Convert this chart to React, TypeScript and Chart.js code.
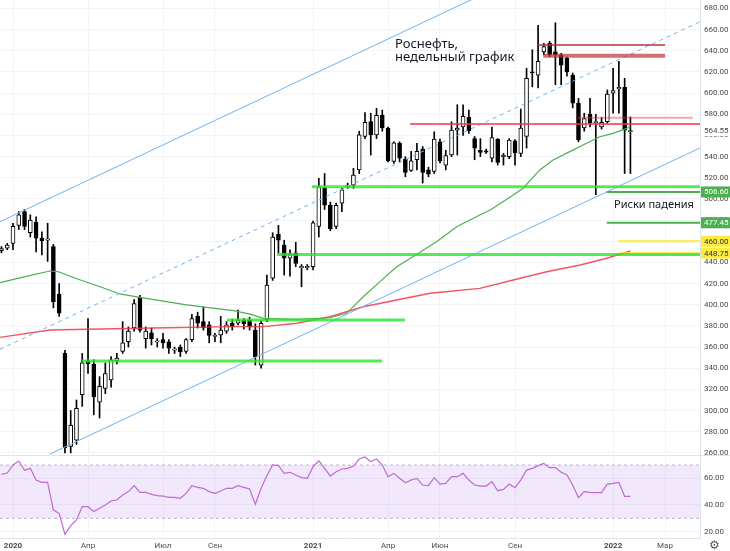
import React, { useEffect, useRef } from "react";
import { Chart, registerables } from "chart.js";

Chart.register(...registerables);

// ---- data (weekly candles; week 0 = week of 6 Jan 2020) ----
const FIRST_WEEK = -2;
const opens = [
  451, 453.5, 458, 475, 488, 468, 478, 463, 461, 455, 410, 354, 266, 272, 315, 347, 344, 308, 321, 329,
  347, 356, 365, 378, 407, 368, 373.5, 364.8, 367, 365, 357, 360, 356, 367, 389, 384, 381, 370, 371.5, 375,
  382.5, 382.5, 385.5, 385.5, 376, 343, 386, 425, 466.5, 456.5, 444, 449, 435, 435, 436, 474, 510, 494,
  474, 496, 512, 513, 527.5, 559, 573, 560.5, 579, 567, 535.5, 552.5, 537.5, 527, 537, 547, 527.5, 526,
  554, 532, 541.5, 565, 568, 577, 557, 546, 545.5, 538.5, 556.5, 540, 540, 555, 543, 559, 620, 617, 639,
  647, 639, 636, 633, 617, 590.5, 567, 580, 572, 568, 573, 600, 604, 605.5, 563.3,
];
const highs = [
  455, 458, 477, 488, 490, 485, 483, 469, 477, 457, 420, 357, 300, 310, 354, 387, 348, 332, 345, 351,
  354, 384, 379, 405, 409, 379, 378, 368, 373, 367, 360, 362, 368, 391, 393, 398, 384, 373, 389, 384,
  386, 395, 387, 388, 382, 385, 428, 468, 475, 461, 452, 459, 438, 438, 479, 519.5, 524, 497,
  496, 510, 515, 529, 564, 581.5, 581, 585.7, 584, 568, 554, 554, 540, 545, 552.5, 549.5, 530, 563.5,
  556.5, 546, 573, 589, 589, 584, 559, 557, 547, 568, 557, 543, 557, 556, 585, 623.5, 641, 664, 647,
  649, 666.5, 637.5, 634, 619, 595, 581, 595, 580, 577, 603, 623.5, 630, 614, 577.5,
];
const lows = [
  449, 452, 452, 471, 471, 464, 450, 447, 441, 397, 389, 260, 260, 268, 304, 335, 296, 293, 316, 322,
  344, 354, 360, 375, 374, 359, 362, 360, 359, 354, 354, 351, 354, 365, 378, 376, 364, 365, 364, 373,
  376, 381, 377, 376, 343, 340, 384, 423, 449, 428, 427, 436, 417, 433, 433, 464, 490, 470,
  472, 488, 510, 510, 524, 557, 541.5, 557, 564, 535, 533.5, 535, 521, 526, 527.5, 515, 521, 524,
  534, 527.5, 540, 541.5, 560, 562, 537, 540, 543, 535, 532, 532, 538, 532, 540, 548, 606, 605, 636,
  634.5, 608, 608, 616, 586, 554, 564, 568, 504, 566, 571.5, 581, 581, 524, 524,
];
const closes = [
  453, 456.5, 474, 485, 474, 480, 463, 460.5, 462.2, 403, 392, 265, 286, 302, 345, 344, 313, 323, 335, 348,
  349.5, 364, 375, 401, 376, 375, 368, 366, 364, 359, 358.2, 355.5, 367, 387, 382.5, 378, 371, 371.2, 376, 381,
  379, 385.5, 382, 379, 351, 382.5, 418.5, 464, 461, 444, 448, 439, 436.2, 436.2, 477.5, 511.5, 494, 472,
  494, 508.5, 513.2, 522.5, 560.5, 572.5, 560.5, 579, 567, 536, 553, 538.5, 525, 536, 545, 525, 523.5, 556.5,
  536, 541, 565, 567, 578, 564.5, 548, 544, 544.3, 558, 534.5, 541.2, 555.5, 543.5, 567, 614, 619, 630, 644,
  636, 636, 626.5, 620, 590.5, 556, 576, 571.5, 573.2, 572.5, 599, 602.5, 605.5, 565, 564.55,
];
const rsiValues = [
  63, 64, 70, 73, 66, 67.5, 58.7, 57, 57, 36.2, 33.7, 18, 24.5, 28.7, 38.7, 38.7, 35, 37.5, 40, 43,
  43.7, 47.5, 50, 54.5, 49.5, 49.5, 48, 47, 46.7, 45.7, 45.7, 45, 48.7, 54.5, 53.2, 52.5, 50, 48.7, 50.5, 52.5,
  52.5, 54.5, 53.2, 52, 40.5, 52.5, 62, 70, 69.5, 63.7, 64.5, 62.5, 60.5, 60, 68.7, 73.2, 67.5, 61.7, 65, 67,
  67.5, 69.2, 74.5, 76, 72.5, 74.5, 70, 61.2, 63.7, 60, 56.7, 58.7, 60, 55, 54.5, 60.5, 55.7, 56.2, 61.2, 61.2,
  63.7, 58.7, 55, 54.2, 54.2, 57.5, 50.7, 51.7, 55.7, 53, 58.7, 66.2, 67.5, 69.5, 71.2, 68, 68, 64.5, 62.5, 55,
  45.5, 50, 49.5, 49.2, 49.2, 55.7, 56.2, 57, 46.5, 46.5,
];

// moving averages
const maMidWeeks = [-2.25, 2.1, 6.4, 7.9, 10.8, 15.1, 18.5, 22, 26.6, 30.1, 33.6, 38.2, 41.1, 43.4, 49.2, 54.9, 57.8, 60.7, 63.6, 66.5, 70, 73.4, 76.9, 80.9, 82.7, 86.7, 88.4, 91.3, 93.6, 96.5, 99.4, 101.7, 104, 106.4, 107];
const maMidValues = [420.8, 426.5, 431.9, 431.2, 425, 417, 410.2, 407, 402.9, 399.8, 397.6, 394.4, 391.2, 387.2, 386.2, 387.7, 391.9, 407.6, 421.8, 435.9, 447.7, 459.6, 473.8, 484.8, 489.5, 503.7, 510.1, 527.4, 536.8, 544.7, 552.6, 558.8, 562, 566.8, 568.3];
const maLongWeeks = [-2.25, 6.4, 15.1, 26.6, 37.6, 43.4, 49.2, 54.9, 60.7, 66.5, 72.3, 80.9, 86.7, 92.5, 98.3, 102.9, 107];
const maLongValues = [369.2, 376.1, 377.1, 378.3, 379.3, 379.3, 382.5, 388.7, 398.1, 404.5, 410.8, 415.5, 423.4, 431.2, 437.6, 443.9, 450.8];

// trend channel (week, price end points)
const channelTopWeeks = [-2.25, 82];
const channelTopPrices = [478.5, 694.8];
const channelMidWeeks = [-2.25, 119.06];
const channelMidPrices = [357.9, 667.5];
const channelLowWeeks = [6.4, 119.06];
const channelLowPrices = [258.9, 548.2];

// horizontal levels
const levelPrices = [346.8, 385.6, 447.5, 511.6, 506.6, 477.45, 460, 448.75, 570.8, 576.8, 645.5, 635.4];
const levelStarts = [11.96, 37.1, 45.75, 51.8, 102.9, 102.9, 104.9, 104.9, 68.8, 97.9, 91, 91.9];
const levelEnds = [63.95, 67.9, 119.06, 119.06, 119.06, 119.06, 119.06, 119.06, 119.06, 117.8, 113, 113];

// axis
const monthTickWeeks = [0, 13, 26, 35, 52, 65, 74, 87, 104, 113];
const monthTickLabels = ["2020", "Апр", "Июл", "Сен", "2021", "Апр", "Июн", "Сен", "2022", "Мар"];
const priceTicks = [260, 280, 300, 320, 340, 360, 380, 400, 420, 440, 460, 480, 500, 520, 540, 560, 580, 600, 620, 640, 660, 680];
const rsiTicks = [20, 40, 60];
const rsiBandTop = 70;
const rsiBandBottom = 30;
const priceTags = [564.55, 506.6, 477.45, 460, 448.75];

// ---- styles ----
const X_MIN = -2.253;
const X_MAX = 119.06;
const Y_MIN = 258;
const Y_MAX = 688;
const RSI_MIN = 15.2;
const RSI_MAX = 77.5;
const GRID = "#f3f4f7";
const AXIS_TEXT = "#4a4a4a";
const AXIS_FONT = { family: "Roboto", size: 8 };
const levelColors = [
  "rgba(40,230,40,0.8)", "rgba(40,230,40,0.8)", "rgba(40,230,40,0.8)", "rgba(40,230,40,0.8)",
  "#4caf50", "#4caf50", "#ffeb3b", "#ffeb3b",
  "#f23645", "rgba(242,54,69,0.45)", "#b8323c", "rgba(190,50,60,0.7)",
];
const levelWidths = [3, 3, 3, 3, 2, 2, 2, 2, 1.6, 2, 1.6, 4];
const levelOrders = [4, 4, 4, 4, 4, 4, 6, 6, 4, 4, 4, 4];
const tagBg = ["#ffffff", "#4caf50", "#4caf50", "#ffeb3b", "#ffeb3b"];
const tagFg = ["#4a4a4a", "#ffffff", "#ffffff", "#333333", "#333333"];

const weeks = opens.map((_, i) => FIRST_WEEK + i);

function fixAxisWidth(s: any) {
  s.width = 30;
  s.paddingTop = 0;
  s.paddingBottom = 0;
}

const tagPlugin = {
  id: "priceTags",
  afterDraw(chart: any) {
    const ctx = chart.ctx;
    const y = chart.scales.y;
    ctx.save();
    priceTags.forEach((v, i) => {
      const py = y.getPixelForValue(v);
      ctx.fillStyle = tagBg[i];
      ctx.fillRect(y.left + 1, py - 5.5, y.width - 1, 11);
      ctx.fillStyle = tagFg[i];
      ctx.font = "8px Roboto";
      ctx.textBaseline = "middle";
      ctx.textAlign = "left";
      ctx.fillText(v.toFixed(2), y.left + 4, py + 0.5);
    });
    ctx.restore();
  },
};

export default function App() {
  const mainRef = useRef<HTMLCanvasElement>(null);
  const rsiRef = useRef<HTMLCanvasElement>(null);

  useEffect(() => {
    const lineDs = (xs: number[], ys: number[], color: string, width: number, order: number, dash: number[] = []) => ({
      type: "line" as const,
      data: xs.map((x, i) => ({ x, y: ys[i] })),
      borderColor: color,
      borderWidth: width,
      borderDash: dash,
      pointRadius: 0,
      fill: false,
      tension: 0,
      order,
    });

    const main = new Chart(mainRef.current!, {
      type: "bar",
      data: {
        datasets: [
          ...levelPrices.map((p, i) =>
            lineDs([levelStarts[i], levelEnds[i]], [p, p], levelColors[i], levelWidths[i], levelOrders[i])
          ),
          lineDs(maMidWeeks, maMidValues, "#4caf50", 1.2, 10),
          lineDs(maLongWeeks, maLongValues, "rgba(242,54,69,0.85)", 1.4, 10),
          lineDs(channelTopWeeks, channelTopPrices, "#6cb4f2", 1, 8),
          lineDs(channelMidWeeks, channelMidPrices, "#6cb4f2", 1, 8, [4, 4]),
          lineDs(channelLowWeeks, channelLowPrices, "#6cb4f2", 1, 8),
          {
            type: "bar" as const,
            data: weeks.map((w, i) => ({ x: w, y: [lows[i], highs[i]] })) as any,
            backgroundColor: "#000",
            barThickness: 1,
            grouped: false,
            order: 30,
          },
          {
            type: "bar" as const,
            data: weeks.map((w, i) => ({ x: w, y: [opens[i], closes[i]] })) as any,
            backgroundColor: weeks.map((_, i) => (closes[i] >= opens[i] ? "#ffffff" : "#000000")),
            borderColor: "#000",
            borderWidth: 1,
            borderSkipped: false,
            barThickness: 4,
            grouped: false,
            order: 29,
          },
        ] as any,
      },
      options: {
        responsive: false,
        animation: false,
        events: [],
        layout: { padding: 0 },
        plugins: { legend: { display: false }, tooltip: { enabled: false } },
        scales: {
          x: {
            type: "linear",
            min: X_MIN,
            max: X_MAX,
            offset: false,
            grid: { color: GRID, drawTicks: false, offset: false },
            border: { display: false },
            ticks: { display: false },
            afterBuildTicks: (s: any) => {
              s.ticks = monthTickWeeks.map((v) => ({ value: v }));
            },
            afterFit: (s: any) => {
              s.height = 0;
              s.paddingLeft = 0;
              s.paddingRight = 0;
            },
          },
          y: {
            type: "linear",
            position: "right",
            min: Y_MIN,
            max: Y_MAX,
            beginAtZero: false,
            grid: { color: GRID, drawTicks: false },
            border: { color: "#e0e3eb" },
            ticks: {
              color: AXIS_TEXT,
              font: AXIS_FONT,
              padding: 4,
              autoSkip: false,
              callback: (v: any) => Number(v).toFixed(2),
            },
            afterBuildTicks: (s: any) => {
              s.ticks = priceTicks.map((v) => ({ value: v }));
            },
            afterFit: fixAxisWidth,
          },
        },
      } as any,
      plugins: [tagPlugin],
    });

    const rsi = new Chart(rsiRef.current!, {
      type: "line",
      data: {
        datasets: [
          {
            data: weeks.map((w, i) => ({ x: w, y: rsiValues[i] })),
            borderColor: "#c06ad3",
            borderWidth: 1.2,
            pointRadius: 0,
            fill: false,
            order: 0,
          },
          {
            data: [{ x: X_MIN, y: rsiBandTop }, { x: X_MAX, y: rsiBandTop }],
            borderColor: "rgba(150,125,180,0.55)",
            borderWidth: 1,
            borderDash: [3, 3],
            pointRadius: 0,
            fill: false,
            order: 2,
          },
          {
            data: [{ x: X_MIN, y: rsiBandBottom }, { x: X_MAX, y: rsiBandBottom }],
            borderColor: "rgba(150,125,180,0.55)",
            borderWidth: 1,
            borderDash: [3, 3],
            pointRadius: 0,
            fill: "-1",
            backgroundColor: "rgba(156,90,235,0.14)",
            order: 2,
          },
        ] as any,
      },
      options: {
        responsive: false,
        animation: false,
        events: [],
        layout: { padding: 0 },
        plugins: { legend: { display: false }, tooltip: { enabled: false } },
        scales: {
          x: {
            type: "linear",
            min: X_MIN,
            max: X_MAX,
            grid: { color: GRID, drawTicks: false },
            border: { display: true, color: "#e0e3eb" },
            ticks: {
              color: AXIS_TEXT,
              padding: 3,
              autoSkip: false,
              maxRotation: 0,
              font: (c: any) => ({
                family: "Roboto",
                size: 8,
                weight: c.tick && /^\d{4}$/.test(monthTickLabels[monthTickWeeks.indexOf(c.tick.value)] || "") ? "bold" : "normal",
              }),
              callback: (v: any) => {
                const k = monthTickWeeks.indexOf(Number(v));
                return k >= 0 ? monthTickLabels[k] : "";
              },
            },
            afterBuildTicks: (s: any) => {
              s.ticks = monthTickWeeks.map((v) => ({ value: v }));
            },
            afterFit: (s: any) => {
              s.height = 13;
              s.paddingLeft = 0;
              s.paddingRight = 0;
            },
          },
          y: {
            type: "linear",
            position: "right",
            min: RSI_MIN,
            max: RSI_MAX,
            grid: { color: GRID, drawTicks: false },
            border: { color: "#e0e3eb" },
            ticks: {
              color: AXIS_TEXT,
              font: AXIS_FONT,
              padding: 4,
              autoSkip: false,
              callback: (v: any) => Number(v).toFixed(2),
            },
            afterBuildTicks: (s: any) => {
              s.ticks = rsiTicks.map((v) => ({ value: v }));
            },
            afterFit: fixAxisWidth,
          },
        },
      } as any,
    });

    return () => {
      main.destroy();
      rsi.destroy();
    };
  }, []);

  return (
    <div style={{ position: "absolute", left: 0, top: 0, width: 730, height: 551, background: "#fff", overflow: "hidden", fontFamily: "'Noto Sans', sans-serif" }}>
      <canvas ref={mainRef} width={730} height={455} style={{ position: "absolute", left: 0, top: 0, width: 730, height: 455 }} />
      <div style={{ position: "absolute", left: 0, top: 455, width: 730, height: 1, background: "#e0e3eb" }} />
      <canvas ref={rsiRef} width={730} height={96} style={{ position: "absolute", left: 0, top: 455, width: 730, height: 96 }} />
      <div style={{ position: "absolute", left: 395, top: 37, fontSize: 13, lineHeight: "12.6px", color: "#131722", whiteSpace: "nowrap" }}>
        Роснефть,
        <br />
        недельный график
      </div>
      <div style={{ position: "absolute", left: 614, top: 197.5, fontSize: 11, lineHeight: "11px", color: "#131722", whiteSpace: "nowrap" }}>
        Риски падения
      </div>
      <div style={{ position: "absolute", left: 709, top: 539, fontSize: 12, lineHeight: "13px", color: "#555", fontFamily: "'DejaVu Sans', sans-serif" }}>
        ⚙
      </div>
    </div>
  );
}
